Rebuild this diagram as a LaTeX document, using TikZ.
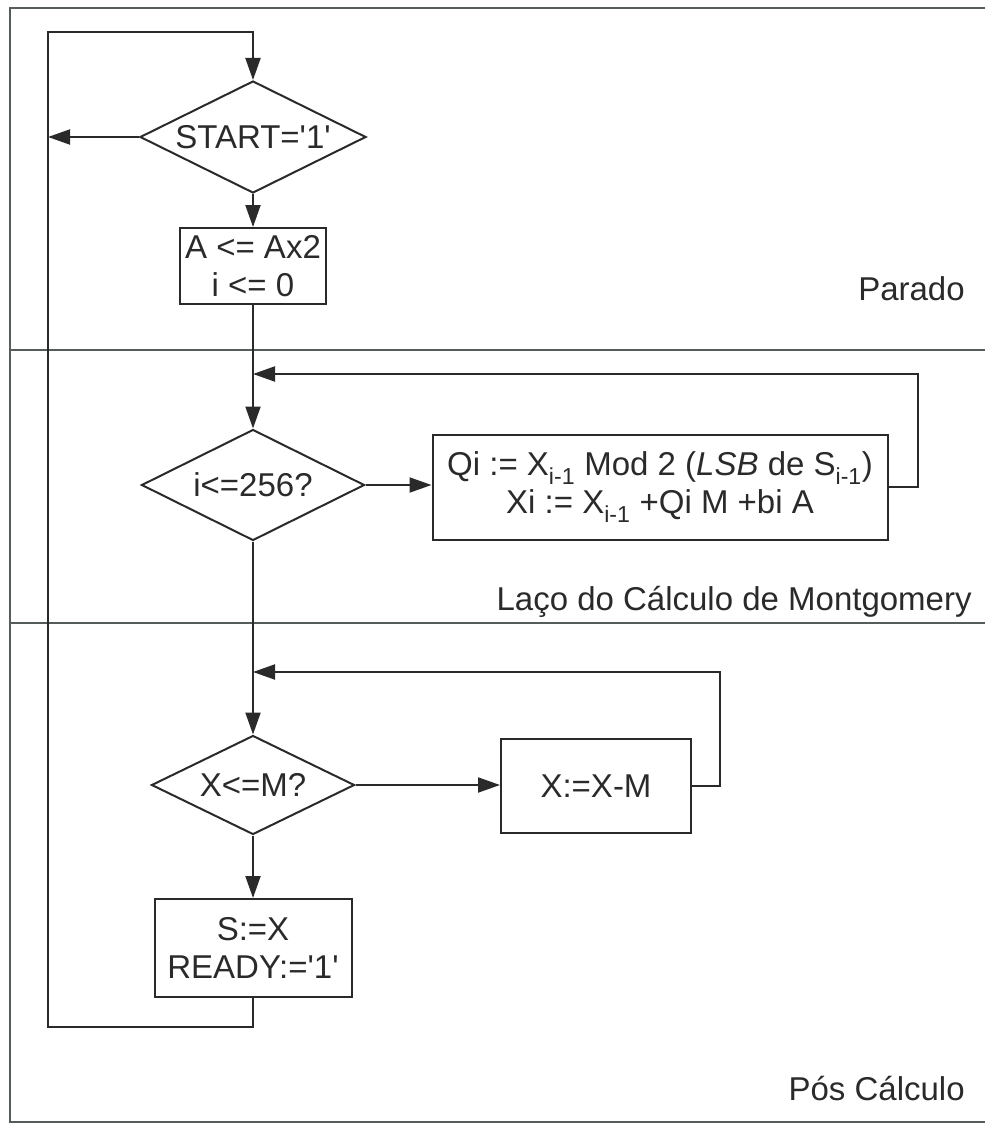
\documentclass[tikz,border=0pt]{standalone}
\usepackage{fontspec}
\setmainfont{Liberation Sans}
\usepackage{tikz}
\usetikzlibrary{positioning, arrows.meta, shapes.geometric}
\definecolor{inkgray}{HTML}{2A2A2A}
\definecolor{framegray}{HTML}{555C59}
\newcommand{\subidx}[1]{\textsubscript{#1}}
\newcommand{\q}{\textquotesingle}

\begin{document}
\begin{tikzpicture}[x=1pt, y=-1pt, line width=2pt, draw=inkgray, text=inkgray,
    font=\fontsize{33}{38}\selectfont,
    decision/.style={diamond, draw, inner sep=0pt, aspect=2},
    stepbox/.style={rectangle, draw, inner sep=0pt, align=center},
    flow/.style={-{Triangle[length=22pt, width=15pt]}},
    lane/.style={anchor=base east}]
    \useasboundingbox (0,0) rectangle (985,1124);

    % lanes
    \draw[framegray] (985,8) -- (10,8) -- (10,1122) -- (985,1122);
    \draw[framegray] (10,350) -- (985,350);
    \draw[framegray] (10,623) -- (985,623);
    \node[lane] (parado) at (969,300) {Parado};
    \node[lane] (laco) at (976,610) {Laço do Cálculo de Montgomery};
    \node[lane] (pos) at (969,1100) {Pós Cálculo};

    % steps
    \node[decision, minimum width=226pt, minimum height=112pt] (start) at (253,137) {START=\q1\q};
    \node[stepbox, minimum width=146pt, minimum height=76pt] (init) at (253,266) {A <= Ax2\\i <= 0};
    \node[decision, minimum width=223pt, minimum height=111pt] (loopi) at (253,485) {i<=256?};
    \node[stepbox, minimum width=455pt, minimum height=105pt] (mont) at (660,487)
        {Qi := X\subidx{i-1} Mod 2 (\textit{LSB} de S\subidx{i-1})\\Xi := X\subidx{i-1} +Qi M +bi A};
    \node[decision, minimum width=203pt, minimum height=99pt] (cmp) at (253,785) {X<=M?};
    \node[stepbox, minimum width=190pt, minimum height=94pt] (subtr) at (596,786) {X:=X-M};
    \node[stepbox, minimum width=197pt, minimum height=98pt] (done) at (253,948) {S:=X\\READY:=\q1\q};

    \coordinate (back) at (48,137);
    \coordinate (jtop) at (253,374);
    \coordinate (jmid) at (253,672);

    % connectors
    \draw[flow] (start) -- (init);
    \draw[flow] (start.west) -- (back);
    \draw[flow] (init) -- (loopi);
    \draw[flow] (loopi.east) -- (loopi.east -| mont.west);
    \draw[flow] (mont.east) -- ++(29,0) |- (jtop);
    \draw[flow] (loopi) -- (cmp);
    \draw[flow] (cmp.east) -- (cmp.east -| subtr.west);
    \draw[flow] (subtr.east) -- ++(28,0) |- (jmid);
    \draw[flow] (cmp) -- (done);
    \draw[flow] (done.south) -- ++(0,29) -| (48,32) -| (start.north);
\end{tikzpicture}
\end{document}
